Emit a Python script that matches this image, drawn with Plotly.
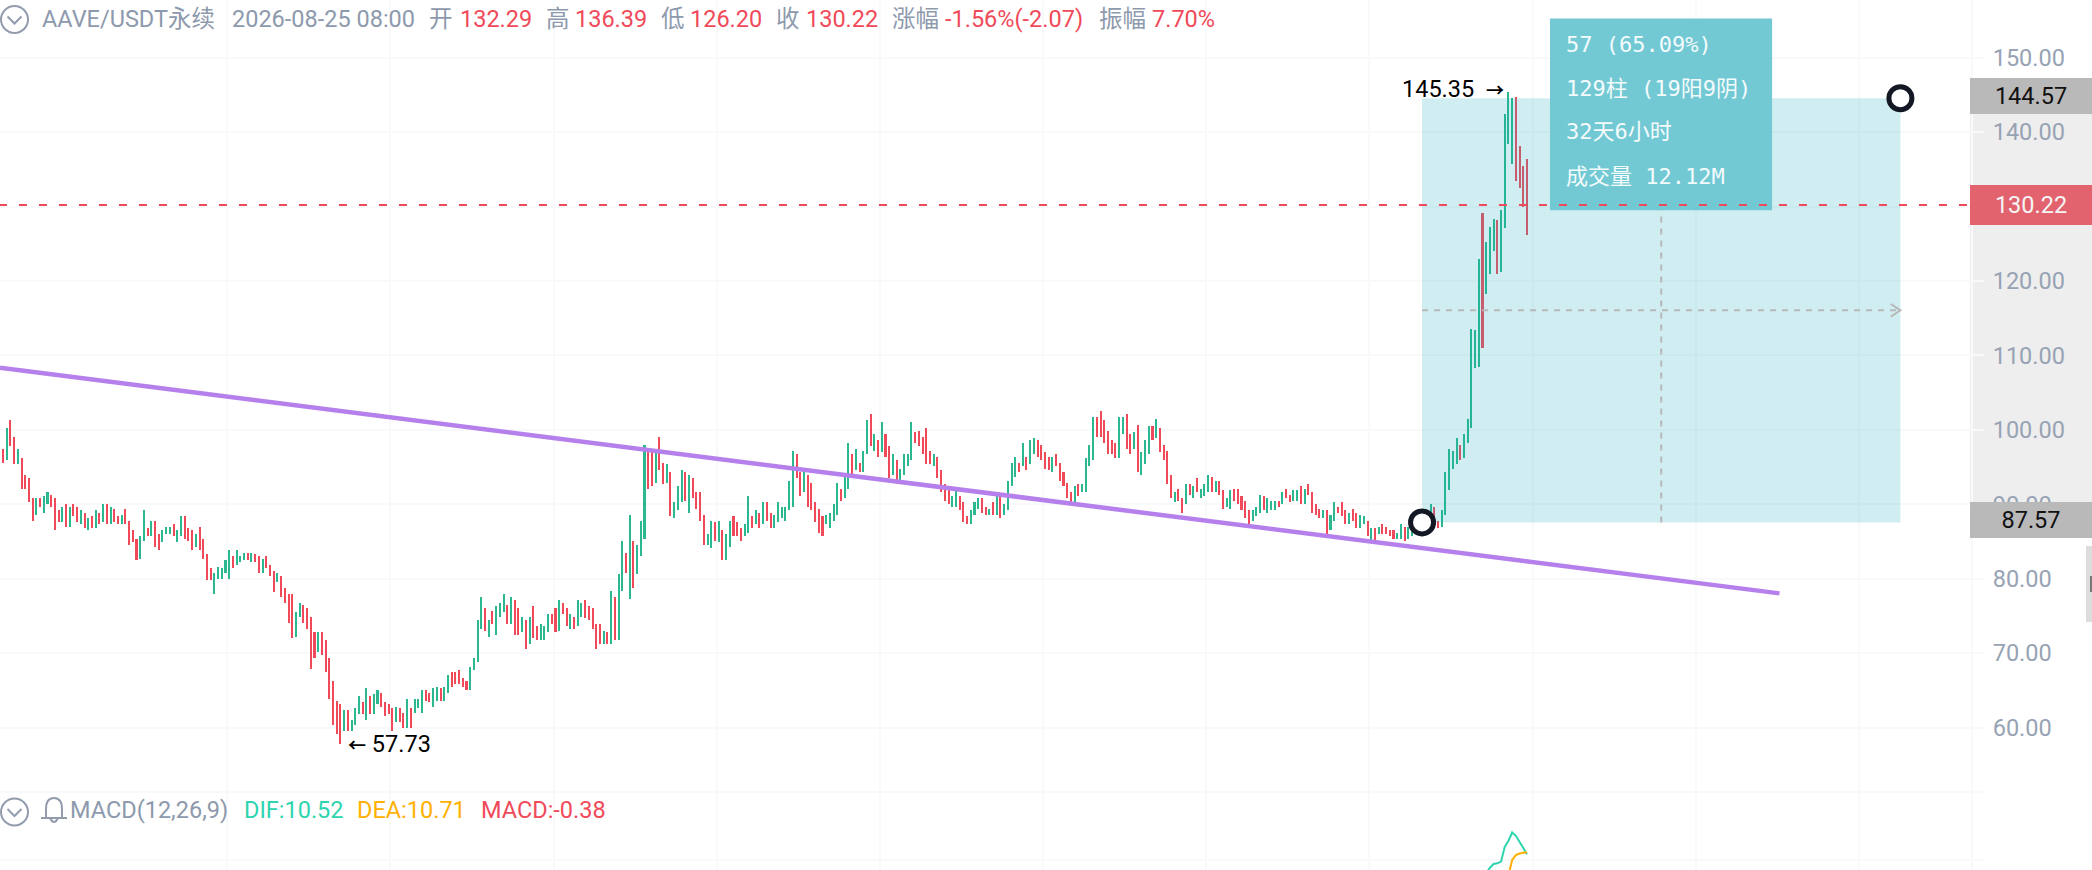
import plotly.graph_objects as go

W, H = 2092, 870

# ---------- data ----------
bar_high = [
 97.8,97.5,100.2,101.3,99.1,97.5,96.2,94.0,93.5,90.8,
 90.8,90.8,91.1,91.6,91.3,90.8,89.2,89.7,90.0,89.7,
 90.0,89.7,89.2,88.9,88.1,88.4,89.2,88.9,90.0,90.0,
 89.7,89.4,88.4,88.6,89.4,87.8,86.5,85.4,85.7,89.2,
 86.8,87.8,87.8,86.0,86.5,87.0,87.0,87.3,86.5,88.4,
 88.4,86.8,86.5,86.0,87.0,85.4,83.3,81.4,80.8,81.6,
 81.4,82.5,83.8,83.0,83.8,83.0,83.5,83.5,83.5,83.3,
 83.0,82.7,83.0,81.9,81.1,80.8,80.3,78.7,77.9,77.9,
 75.5,76.8,76.5,76.0,74.9,72.8,72.8,72.8,71.7,69.3,
 66.3,63.6,63.1,62.3,62.3,61.0,62.6,64.2,63.4,65.3,
 64.2,64.5,65.0,64.7,63.4,63.1,62.6,62.8,62.6,62.0,
 63.9,62.6,63.9,63.9,65.0,65.0,64.7,65.3,65.5,65.3,
 65.5,67.1,67.4,67.4,67.7,66.6,66.3,68.2,69.3,74.4,
 77.6,76.0,74.4,75.7,76.3,76.8,77.9,76.5,77.6,77.1,
 76.0,74.9,74.4,74.9,76.3,73.6,73.9,73.6,75.2,75.2,
 76.0,77.1,76.8,76.0,75.2,74.9,77.1,76.8,77.1,76.3,
 76.0,73.9,73.9,73.0,72.8,78.4,77.6,80.6,85.1,83.5,
 88.6,85.1,84.6,87.8,98.0,97.5,97.2,97.5,99.1,95.6,
 95.4,94.3,90.3,92.4,94.6,94.3,94.0,93.5,91.6,91.6,
 88.6,86.0,87.8,87.6,87.8,86.5,86.0,87.8,88.4,87.6,
 86.8,87.3,91.1,88.4,89.2,88.9,90.3,90.3,88.9,88.6,
 90.3,89.7,89.7,93.2,97.2,96.7,94.3,94.6,94.0,92.9,
 90.3,89.4,88.4,88.6,88.9,90.0,92.9,92.1,93.7,98.3,
 96.7,97.5,95.6,97.2,101.3,102.1,99.4,98.6,101.0,99.4,
 97.8,96.7,95.9,94.8,96.7,96.7,101.0,99.7,99.9,99.1,
 100.2,97.2,96.7,96.4,94.6,92.7,91.9,91.1,91.9,91.1,
 90.3,88.4,89.2,90.3,90.8,90.8,89.7,89.4,90.3,91.3,
 91.1,90.0,93.2,95.6,96.4,95.6,98.3,96.4,98.6,98.9,
 98.6,98.0,97.0,96.4,96.4,96.7,95.6,94.3,92.9,91.6,
 92.4,92.7,92.7,96.2,98.0,101.8,101.8,102.6,101.3,99.9,
 98.6,98.3,101.8,101.8,102.1,99.4,99.7,100.7,97.0,98.6,
 100.5,100.5,101.5,100.2,98.0,97.2,94.0,91.6,92.1,90.8,
 92.7,92.7,92.4,93.5,92.1,92.7,94.0,93.7,93.2,93.2,
 91.9,90.8,91.9,92.1,92.1,91.1,90.5,89.2,89.2,89.7,
 91.3,91.1,90.8,90.5,90.5,90.5,91.6,92.1,91.3,91.9,
 91.9,92.4,92.1,92.7,91.6,90.0,89.4,89.2,89.2,88.6,
 90.3,89.7,90.3,89.2,88.9,89.4,88.9,88.6,88.4,87.8,
 86.8,86.8,87.0,87.3,87.0,86.5,86.5,86.2,87.3,87.0,
 87.0,86.8,88.1,89.4,89.4,88.9,90.0,89.7,87.8,89.2,
 94.3,97.5,97.2,98.9,98.0,99.4,101.5,113.6,113.4,123.0,
 129.2,125.2,127.3,128.4,128.2,129.5,142.4,145.35,144.6,144.8,138.1,135.4,136.39,
]
bar_low = [
 95.4,95.6,95.9,97.8,95.4,95.4,92.1,92.1,90.3,87.8,
 88.6,89.7,88.9,90.0,89.7,86.5,87.6,87.6,87.0,87.0,
 88.4,87.6,87.3,86.8,86.5,86.8,86.8,87.3,87.6,87.3,
 87.3,87.6,87.3,87.3,87.3,84.6,84.9,82.5,82.7,85.1,
 85.7,85.7,84.3,83.8,84.9,86.0,86.0,85.7,84.9,85.7,
 85.4,85.1,83.8,84.3,83.8,82.7,79.8,79.8,77.9,80.0,
 80.0,80.8,80.0,81.4,81.9,82.2,82.5,82.5,82.2,82.2,
 80.8,80.8,81.4,80.3,78.2,79.5,77.6,76.8,74.1,72.0,
 72.2,74.9,74.1,73.3,67.9,69.3,70.1,69.8,67.4,63.9,
 60.4,59.1,57.73,59.6,59.6,59.6,60.4,61.8,61.8,61.0,
 61.8,61.8,63.1,62.8,61.5,61.8,59.6,60.7,60.7,59.9,
 59.9,59.9,62.0,62.6,62.0,63.6,63.4,62.8,63.6,63.6,
 63.6,64.7,65.5,65.8,65.8,65.5,65.0,65.0,67.7,68.8,
 73.3,73.0,72.2,73.9,72.5,74.9,75.5,73.9,73.9,72.5,
 72.5,72.8,70.6,71.2,72.0,71.7,71.7,71.7,72.8,73.9,
 72.8,73.0,75.2,73.6,73.3,73.3,73.6,74.9,74.7,74.4,
 73.3,70.6,71.2,71.2,71.2,71.2,71.7,71.7,78.4,80.8,
 77.3,78.7,80.6,83.0,85.4,92.1,92.4,92.9,94.6,92.7,
 92.9,88.4,88.1,89.2,90.3,90.5,88.9,90.8,89.4,87.8,
 84.6,84.6,84.1,85.1,84.9,82.5,82.5,84.3,85.7,85.7,
 85.1,85.7,86.2,86.8,87.3,86.8,87.3,87.8,86.8,86.8,
 87.6,88.1,87.8,89.2,89.7,93.5,91.1,91.6,89.7,89.2,
 87.6,86.2,85.7,87.3,86.8,87.8,88.6,90.5,90.8,92.1,
 94.0,94.6,94.3,94.3,96.7,97.8,97.2,96.4,97.0,96.4,
 93.5,94.0,93.2,93.2,94.0,95.1,95.9,98.3,97.8,96.7,
 95.4,95.4,95.1,93.5,91.6,90.5,90.0,89.7,89.7,89.2,
 87.6,87.3,87.3,88.6,89.4,88.9,88.6,88.6,88.6,88.6,
 88.1,88.6,89.2,92.4,93.7,94.3,95.1,94.6,95.4,96.7,
 96.4,95.9,94.8,94.6,94.3,95.1,93.2,92.4,90.8,90.3,
 90.3,91.1,91.6,91.6,95.1,95.9,99.1,99.1,98.3,96.7,
 96.7,96.2,96.2,99.4,97.5,96.7,97.5,94.3,94.0,95.4,
 96.7,98.6,98.9,97.0,95.9,92.7,90.8,90.3,90.5,88.9,
 90.0,91.3,90.8,91.6,90.8,91.1,91.6,91.6,91.6,91.3,
 89.4,89.7,89.4,90.5,90.0,89.2,88.1,87.3,87.8,88.4,
 88.9,89.2,88.9,89.2,89.2,89.7,90.0,90.8,90.3,90.5,
 90.5,90.0,90.0,91.3,88.9,88.6,88.1,88.1,86.0,86.5,
 87.8,88.9,88.4,87.3,87.3,87.8,86.8,86.8,87.3,85.7,
 85.1,85.1,86.0,86.0,86.0,85.7,85.4,85.4,85.4,85.1,
 85.4,85.7,86.2,87.3,87.8,87.3,87.8,87.8,86.8,87.0,
 88.6,91.9,94.8,95.4,95.9,96.2,98.3,100.2,108.3,108.5,
 111.0,118.2,120.9,124.1,120.9,121.2,127.1,138.4,135.7,133.5,132.5,130.0,126.2,
]
# g = green bar, r = red bar
bar_dir = ("grgrrgrrrr" "grggrrrgrg" "rrgrgrgrgr" "grrgrrrrgg" "rgrrgggrgg"
           "rrrgrrrrgg" "gggrgggrgr" "rgrrrgrrrr" "ggrrrrgrrr" "rrrgrgggrg"
           "rggrrrrgrr" "grgggrrggr" "ggrrrrrggg" "grgrgggrgr" "rgrgrrgggr"
           "rgrrgrggrr" "rrrgrgrggr" "grgggrrgrr" "grgggrgrrr" "rggrgrggrr"
           "rggrgrgrrg" "gggggrrgrr" "rrrggggrgg" "rgrggrgrgr" "rgrggggrrr"
           "rrgrrrrggr" "rrgggrrgrg" "rggggrgrgg" "rrrrgrrrrr" "grggggrrrr"
           "rrggrrgrgg" "grgrrrrgrr" "grgrgggrgr" "rggrrrrrgg" "grgggrgrrg"
           "grgrrrrgrg" "grrrgrrggr" "grgrrrrggr" "gggggrgrrg" "ggggrggggg"
           "rgggrggggrrrr")
bar_index = list(range(len(bar_high)))

dif_x = [401, 402, 403, 404, 405, 406, 407, 408, 409, 410, 411, 412]
dif_y = [8.8, 9.3, 9.64, 9.7, 9.85, 11.2, 11.75, 12.5, 12.2, 11.7, 11.1, 10.52]
dea_x = [406, 407, 408, 409, 410, 411, 412]
dea_y = [7.6, 8.6, 10.0, 10.45, 10.59, 10.65, 10.71]

trend_x = [0.19, 480.1]
trend_y = [108.34, 78.03]

price_ticks = [60, 70, 80, 90, 100, 110, 120, 130, 140, 150]
macd_ticks = [10]
time_grid = [61.5 + 44 * n for n in range(11)]

last_price = 130.22
measure_low, measure_high = 87.57, 144.57
measure_x0, measure_x1 = 383.7, 512.7
peak_bar, peak_price = 407, 145.35
trough_bar, trough_price = 92, 57.73

header = [
    (41, "AAVE/USDT永续", "#8d99ac"), (231, "2026-08-25 08:00", "#8d99ac"),
    (428, "开", "#8d99ac"), (459, "132.29", "#f04a5a"),
    (545, "高", "#8d99ac"), (574, "136.39", "#f04a5a"),
    (660, "低", "#8d99ac"), (689, "126.20", "#f04a5a"),
    (775, "收", "#8d99ac"), (805, "130.22", "#f04a5a"),
    (891, "涨幅", "#8d99ac"), (944, "-1.56%(-2.07)", "#f04a5a"),
    (1098, "振幅", "#8d99ac"), (1151, "7.70%", "#f04a5a"),
]
macd_header = [
    (69, "MACD(12,26,9)", "#8d99ac"), (243, "DIF:10.52", "#2dd4ae"),
    (356, "DEA:10.71", "#ffb000"), (480, "MACD:-0.38", "#f04a5a"),
]
tooltip_lines = ["57 (65.09%)", "129柱 (19阳9阴)", "32天6小时", "成交量 12.12M"]

# ---------- geometry of the panes ----------
PLOT_R = 1971
PANE_SPLIT = 792
UP, DOWN = "#2bb78f", "#f04a5a"
GRID = "#f8f9fb"
FONT = "Roboto, Noto Sans CJK SC, sans-serif"
MONO = "DejaVu Sans Mono, Noto Sans CJK SC, monospace"
FS = 23.5

def px(x):
    return x / W

def py(y):
    return 1 - y / H

fig = go.Figure()
fig.add_trace(go.Bar(
    x=bar_index, base=bar_low,
    y=[h - l for h, l in zip(bar_high, bar_low)],
    width=0.55,
    marker=dict(color=[UP if d == "g" else DOWN for d in bar_dir], line=dict(width=0)),
    hoverinfo="skip", showlegend=False))
fig.add_trace(go.Scatter(
    x=trend_x, y=trend_y, mode="lines",
    line=dict(color="#b57fec", width=4.5), hoverinfo="skip", showlegend=False))
fig.add_trace(go.Scatter(
    x=dif_x, y=dif_y, mode="lines", xaxis="x2", yaxis="y2",
    line=dict(color="#2dd4ae", width=2), hoverinfo="skip", showlegend=False))
fig.add_trace(go.Scatter(
    x=dea_x, y=dea_y, mode="lines", xaxis="x2", yaxis="y2",
    line=dict(color="#ffb000", width=2), hoverinfo="skip", showlegend=False))

x_range = [0.19, 531.74]
axis_x = dict(range=x_range, domain=[0, PLOT_R / W], tickmode="array", tickvals=time_grid,
              showticklabels=False, ticks="", showgrid=True, gridcolor=GRID, gridwidth=2,
              zeroline=False, showline=False, fixedrange=True)
axis_y = dict(side="right", tickmode="array", tickformat=".2f", showgrid=True, gridcolor=GRID,
              gridwidth=2, zeroline=False, showline=True, linecolor=GRID, linewidth=2,
              ticks="outside", ticklen=11, tickwidth=2, tickcolor=GRID, ticklabelstandoff=4,
              tickfont=dict(family=FONT, size=FS, color="#97a3b4"), fixedrange=True)

fig.update_layout(
    width=W, height=H, margin=dict(l=0, r=0, t=0, b=0),
    paper_bgcolor="white", plot_bgcolor="white", showlegend=False, bargap=0,
    xaxis=dict(axis_x, anchor="y"),
    yaxis=dict(axis_y, anchor="x", domain=[py(PANE_SPLIT), 1], range=[51.34, 157.77], tickvals=price_ticks),
    xaxis2=dict(axis_x, anchor="y2"),
    yaxis2=dict(axis_y, anchor="x2", domain=[0, py(PANE_SPLIT)], range=[9.09, 16.18], tickvals=macd_ticks),
)

mid_x = (measure_x0 + measure_x1) / 2
mid_y = (measure_low + measure_high) / 2
tip_x0, tip_x1, tip_y0, tip_y1 = 418.2, 478.1, 129.5, 155.3
GREY = "#b8b8b8"
ICON = "#929cad"

def circle_icon(cx, cy):
    r = 13.5
    return [
        dict(type="circle", xref="paper", yref="paper", x0=px(cx - r), x1=px(cx + r),
             y0=py(cy + r), y1=py(cy - r), line=dict(color=ICON, width=2), fillcolor="rgba(0,0,0,0)"),
        dict(type="path", xref="paper", yref="paper",
             path=f"M {px(cx-7)} {py(cy-3)} L {px(cx)} {py(cy+4)} L {px(cx+7)} {py(cy-3)}",
             line=dict(color=ICON, width=2)),
    ]

bell = (f"M {px(41)} {py(818)} L {px(67)} {py(818)} M {px(46)} {py(818)} L {px(46)} {py(809)} "
        f"Q {px(46)} {py(798)} {px(54)} {py(798)} Q {px(62)} {py(798)} {px(62)} {py(809)} L {px(62)} {py(818)} "
        f"M {px(50)} {py(818)} Q {px(54)} {py(826)} {px(58)} {py(818)}")

shapes = [
    # highlighted stretch of the price axis
    dict(type="rect", layer="below", xref="paper", yref="y", x0=px(PLOT_R - 1), x1=1,
         y0=measure_low, y1=measure_high, fillcolor="#eeeeee", line=dict(width=0)),
    # pane separator
    dict(type="line", layer="below", xref="paper", yref="paper", x0=0, x1=px(PLOT_R + 11),
         y0=py(PANE_SPLIT), y1=py(PANE_SPLIT), line=dict(color=GRID, width=2)),
    # measuring box
    dict(type="rect", xref="x", yref="y", x0=measure_x0, x1=measure_x1, y0=measure_low, y1=measure_high,
         fillcolor="rgba(18,170,187,0.2)", line=dict(width=0)),
    dict(type="line", xref="x", yref="y", x0=measure_x0, x1=measure_x1, y0=mid_y, y1=mid_y,
         line=dict(color=GREY, width=2, dash="6px,6px")),
    dict(type="line", xref="x", yref="y", x0=mid_x, x1=mid_x, y0=measure_low, y1=tip_y0,
         line=dict(color=GREY, width=2, dash="6px,6px")),
    dict(type="path", xref="x", yref="y",
         path=f"M {measure_x1-2.6} {mid_y+0.85} L {measure_x1} {mid_y} L {measure_x1-2.6} {mid_y-0.85}",
         line=dict(color=GREY, width=2)),
    dict(type="rect", xref="x", yref="y", x0=tip_x0, x1=tip_x1, y0=tip_y0, y1=tip_y1,
         fillcolor="#72c9d4", line=dict(width=0)),
    # last price line
    dict(type="line", xref="paper", yref="y", x0=-0.0005, x1=PLOT_R / W, y0=last_price, y1=last_price,
         line=dict(color="#f04a5a", width=2, dash="8px,12px")),
    # anchor circles
    dict(type="circle", xref="x", yref="y", xsizemode="pixel", ysizemode="pixel",
         xanchor=measure_x0, yanchor=measure_low, x0=-11.5, x1=11.5, y0=-11.5, y1=11.5,
         fillcolor="white", line=dict(color="#141824", width=5)),
    dict(type="circle", xref="x", yref="y", xsizemode="pixel", ysizemode="pixel",
         xanchor=measure_x1, yanchor=measure_high, x0=-11.5, x1=11.5, y0=-11.5, y1=11.5,
         fillcolor="white", line=dict(color="#141824", width=5)),
    # small handle at the right edge
    dict(type="rect", xref="paper", yref="paper", x0=px(2086), x1=1, y0=py(622), y1=py(546),
         fillcolor="#dddddd", line=dict(width=0)),
    dict(type="rect", xref="paper", yref="paper", x0=px(2090), x1=1, y0=py(592), y1=py(576),
         fillcolor="#777777", line=dict(width=0)),
    dict(type="path", xref="paper", yref="paper", path=bell, line=dict(color=ICON, width=2)),
]
shapes += circle_icon(14.5, 19.5) + circle_icon(14.5, 812)

annotations = []

def text_at(x, y, text, color, size=FS, family=FONT):
    annotations.append(dict(xref="paper", yref="paper", x=px(x), y=py(y), xanchor="left", yanchor="middle",
                            text=text, showarrow=False, font=dict(family=family, size=size, color=color),
                            borderpad=0))

for x, text, color in header:
    text_at(x, 19.5, text, color)
for x, text, color in macd_header:
    text_at(x, 810, text, color)
for y, line in zip([45, 88, 132, 177], tooltip_lines):
    text_at(1565, y, line, "#f4fbfc", size=22, family=MONO)

def axis_label(value, bg, color, height, shift=0):
    annotations.append(dict(xref="paper", yref="y", x=1, y=value, xanchor="right", yanchor="middle",
                            text=f"{value:.2f}", showarrow=False, width=122, height=height, bgcolor=bg,
                            borderpad=0, borderwidth=0, yshift=shift, align="center", valign="middle",
                            font=dict(family=FONT, size=FS, color=color)))

axis_label(measure_high, "#b9b9b9", "#111111", 36, 2)
axis_label(measure_low, "#b9b9b9", "#111111", 36, 2)
axis_label(last_price, "#e2636e", "#f5f5f5", 40)

ARROW = "<span style='font-size:18px'><b>{}</b></span>"
annotations.append(dict(xref="x", yref="y", x=peak_bar, y=peak_price, xanchor="right", yanchor="middle",
                        xshift=-2, yshift=3, text=f"{peak_price:.2f}&nbsp;&nbsp;" + ARROW.format("→"),
                        showarrow=False, font=dict(family=FONT, size=FS, color="#000000")))
annotations.append(dict(xref="x", yref="y", x=trough_bar, y=trough_price, xanchor="left", yanchor="middle",
                        xshift=6, text=ARROW.format("←") + f"&nbsp;{trough_price:.2f}",
                        showarrow=False, font=dict(family=FONT, size=FS, color="#000000")))

fig.update_layout(shapes=shapes, annotations=annotations)
fig.write_html("out.html", post_script="document.body.style.margin='0';",
               config=dict(displayModeBar=False))
